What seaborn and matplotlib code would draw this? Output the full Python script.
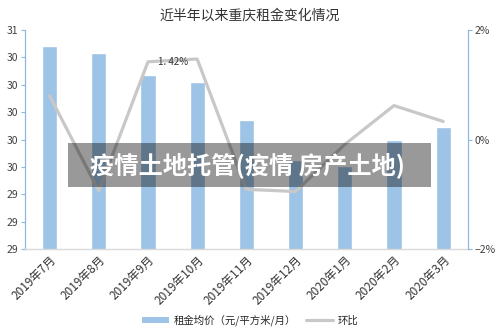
import matplotlib
matplotlib.use("Agg")
import matplotlib.pyplot as plt
from matplotlib.patches import Patch, Rectangle
from matplotlib.lines import Line2D
import seaborn as sns
import pandas as pd
import numpy as np

months = ["2019年7月", "2019年8月", "2019年9月", "2019年10月", "2019年11月",
          "2019年12月", "2020年1月", "2020年2月", "2020年3月"]
rent = [30.88, 30.83, 30.67, 30.62, 30.34, 30.05, 30.01, 30.20, 30.29]
mom_pct = [0.80, -0.94, 1.42, 1.47, -0.91, -0.95, -0.09, 0.62, 0.33]
left_ticks = [29.4, 29.6, 29.8, 30.0, 30.2, 30.4, 30.6, 30.8, 31.0]
left_labels = ["29", "29", "29", "30", "30", "30", "30", "30", "31"]
right_ticks = [-2, 0, 2]
right_labels = ["−2%", "0%", "2%"]

sns.set_theme(style="white")
plt.rcParams["font.family"] = ["Noto Sans CJK SC", "DejaVu Sans"]

bar_color = "#9dc3e6"
line_color = "#c8c8c8"
axis_blue = "#8fb8e0"

df = pd.DataFrame({"month": months, "rent": rent, "mom": mom_pct,
                   "idx": np.arange(len(months))})

fig = plt.figure(figsize=(5.0, 3.32), dpi=100)
ax = fig.add_axes([0.05, 0.25, 0.8855, 0.6596])

sns.barplot(data=df, x="month", y="rent", color=bar_color, width=0.31,
            saturation=1, ax=ax)
ax.set_ylim(29.4, 31.0)
ax.set_xlim(-0.5, len(months) - 0.5)
ax.set_yticks(left_ticks)
ax.set_yticklabels(left_labels, fontsize=7.5, color="#404040")
ax.set_xlabel("")
ax.set_ylabel("")
ax.set_xticks(range(len(months)))
ax.set_xticklabels(months, rotation=45, ha="right", rotation_mode="anchor",
                   fontsize=8.5, color="#333333")
ax.tick_params(axis="x", length=0, pad=3)
ax.tick_params(axis="y", length=3, width=0.8, color=axis_blue, pad=2, left=True)
for side in ["top", "right"]:
    ax.spines[side].set_visible(False)
ax.spines["left"].set_color(axis_blue)
ax.spines["left"].set_linewidth(0.9)
ax.spines["bottom"].set_color("#d9d9d9")
ax.spines["bottom"].set_linewidth(1.0)

ax2 = ax.twinx()
sns.lineplot(data=df, x="idx", y="mom", color=line_color, linewidth=2.3,
             ax=ax2, legend=False)
ax2.set_ylim(-2, 2)
ax2.set_xlim(-0.5, len(months) - 0.5)
ax2.set_yticks(right_ticks)
ax2.set_yticklabels(right_labels, fontsize=7.5, color="#404040")
ax2.set_ylabel("")
ax2.set_xlabel("")
ax2.tick_params(axis="y", length=3, width=0.8, color=axis_blue, pad=2, right=True)
for side in ["top", "left", "bottom"]:
    ax2.spines[side].set_visible(False)
ax2.spines["right"].set_color(axis_blue)
ax2.spines["right"].set_linewidth(0.9)

ax2.text(2.5, mom_pct[2], f"{mom_pct[2]:.2f}%".replace(".", ". "),
         ha="center", va="center", fontsize=7, color="#333333")

fig.text(0.5, 0.952, "近半年以来重庆租金变化情况", ha="center", va="center",
         fontsize=10, color="#333333")

handles = [Patch(facecolor=bar_color, edgecolor="none"),
           Line2D([0], [0], color=line_color, linewidth=2.3)]
fig.legend(handles, ["租金均价（元/平方米/月）", "环比"], loc="center",
           bbox_to_anchor=(0.5, 0.035), ncol=2, frameon=False, fontsize=7.5,
           handlelength=2.6, handleheight=0.6, columnspacing=1.0,
           handletextpad=0.4)

fig.patches.append(Rectangle((68 / 500, 1 - 187 / 332), 363 / 500, 44 / 332,
                             transform=fig.transFigure, facecolor="black",
                             alpha=0.4, edgecolor="none", zorder=10))
fig.text(0.496, 1 - 165 / 332, "疫情土地托管(疫情 房产土地)", ha="center",
         va="center", fontsize=17.5, fontweight="bold", color="white", zorder=11)

fig.savefig("out.png", dpi=100)
